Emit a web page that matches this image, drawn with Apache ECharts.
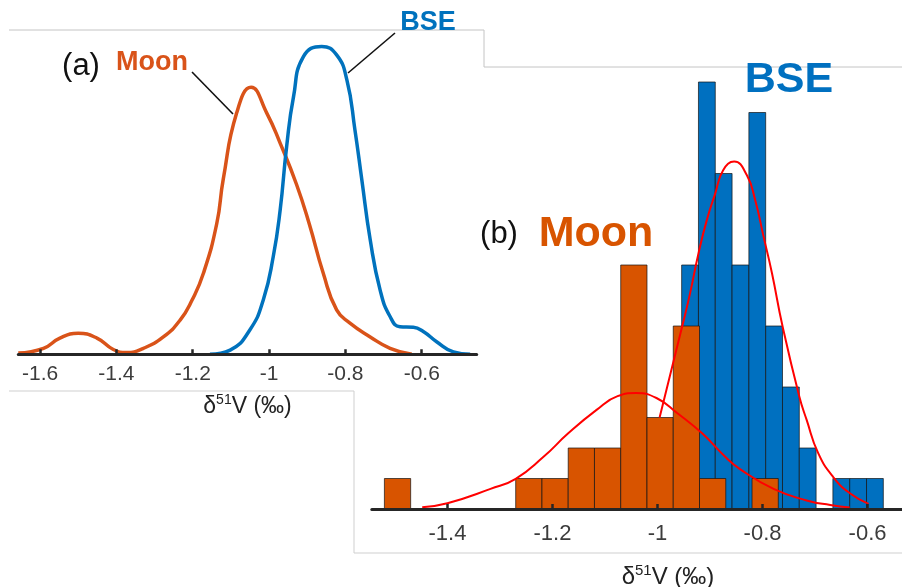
<!DOCTYPE html>
<html>
<head>
<meta charset="utf-8">
<script src="https://cdn.jsdelivr.net/npm/echarts@6/dist/echarts.min.js"></script>
<style>
html, body { margin: 0; padding: 0; background: #fff; }
#main { width: 902px; height: 587px; }
</style>
</head>
<body>
<div id="main"></div>
<script>
// (a) kernel density curves, delta51V vs density
var kdeMoonX = [-1.657, -1.591, -1.548, -1.500, -1.451, -1.408, -1.373, -1.329, -1.277, -1.233, -1.202, -1.172, -1.137, -1.120, -1.085, -1.047, -1.006, -0.971, -0.928, -0.895, -0.858, -0.823, -0.788, -0.735, -0.683, -0.626];
var kdeMoonY = [0.02, 0.10, 0.27, 0.35, 0.27, 0.08, 0.03, 0.10, 0.29, 0.57, 0.90, 1.35, 2.18, 2.92, 4.02, 4.45, 4.02, 3.52, 2.83, 2.18, 1.35, 0.74, 0.52, 0.29, 0.10, 0.0];
var kdeBseX = [-1.155, -1.102, -1.050, -1.015, -0.989, -0.971, -0.954, -0.936, -0.910, -0.862, -0.823, -0.796, -0.775, -0.757, -0.735, -0.709, -0.683, -0.657, -0.622, -0.596, -0.561, -0.517, -0.473];
var kdeBseY = [0.0, 0.07, 0.41, 0.91, 1.63, 2.40, 3.46, 4.29, 4.96, 5.13, 4.99, 4.57, 3.74, 2.91, 1.91, 1.07, 0.63, 0.46, 0.45, 0.38, 0.21, 0.04, 0.0];
var ticksA = [-1.6, -1.4, -1.2, -1, -0.8, -0.6];

// (b) histograms (bin lower edges, widths, counts) and normal fits
var moonBinLo = [-1.52, -1.27, -1.22, -1.17, -1.12, -1.07, -1.02, -0.97, -0.92, -0.82];
var moonBinWidth = 0.05;
var moonCounts = [1, 1, 1, 2, 2, 8, 3, 6, 1, 1];
var bseBinLo = [-0.954, -0.922, -0.890, -0.858, -0.826, -0.794, -0.762, -0.730, -0.666, -0.634, -0.602];
var bseBinWidth = 0.032;
var bseCounts = [8, 14, 11, 8, 13, 6, 4, 2, 1, 1, 1];
var fitMoonX = [-1.448, -1.400, -1.318, -1.270, -1.217, -1.170, -1.116, -1.076, -1.041, -1.002, -0.962, -0.915, -0.871, -0.843, -0.779, -0.716, -0.671, -0.634];
var fitMoonY = [0.06, 0.19, 0.66, 0.99, 1.71, 2.48, 3.25, 3.70, 3.80, 3.64, 3.14, 2.48, 1.71, 1.31, 0.66, 0.28, 0.13, 0.05];
var fitBseX = [-0.996, -0.952, -0.938, -0.922, -0.906, -0.890, -0.875, -0.854, -0.830, -0.814, -0.798, -0.782, -0.762, -0.730, -0.716, -0.694, -0.665, -0.633, -0.598];
var fitBseY = [3.00, 6.06, 7.07, 8.38, 9.48, 10.35, 11.11, 11.39, 10.95, 10.13, 8.93, 7.73, 6.00, 3.69, 2.92, 1.83, 1.04, 0.51, 0.17];
var ticksB = [-1.4, -1.2, -1, -0.8, -0.6];

var FONT = 'Liberation Sans';
var ORANGE = '#D95319';
var BLUE = '#0072BD';

function pairs(xs, ys) {
  return xs.map(function (x, i) { return [x, ys[i]]; });
}
function bins(lo, w, counts) {
  return lo.map(function (x, i) { return [x, +(x + w).toFixed(3), counts[i]]; });
}

function renderBin(params, api) {
  var p0 = api.coord([api.value(0), 0]);
  var p1 = api.coord([api.value(1), api.value(2)]);
  return {
    type: 'rect',
    shape: { x: p0[0], y: p1[1], width: p1[0] - p0[0], height: p0[1] - p1[1] },
    style: { fill: api.visual('color'), stroke: 'rgba(20,20,20,0.7)', lineWidth: 1 }
  };
}

function xAxisFor(idx, min, max, ticks, fontSize, margin, nameGap, nameSize) {
  return {
    gridIndex: idx,
    type: 'value',
    min: min,
    max: max,
    z: 10,
    splitLine: { show: false },
    axisLine: { onZero: false, lineStyle: { color: '#262626', width: 3 } },
    axisTick: { inside: true, length: 5, customValues: ticks, lineStyle: { color: '#262626', width: 2.5 } },
    axisLabel: { customValues: ticks, fontSize: fontSize, fontFamily: FONT, color: '#3c3c3c', margin: margin },
    name: '{n|δ}{s|51}{n|V (‰)}',
    nameLocation: 'middle',
    nameGap: nameGap,
    nameTextStyle: {
      rich: {
        n: { fontSize: nameSize, fontFamily: FONT, color: '#222', lineHeight: nameSize + 4 },
        s: { fontSize: Math.round(nameSize * 0.62), fontFamily: FONT, color: '#222', verticalAlign: 'top', lineHeight: nameSize * 0.7 }
      }
    }
  };
}

var chart = echarts.init(document.getElementById('main'));

var option = {
  backgroundColor: '#fff',
  animation: false,
  grid: [
    { left: 18.3, width: 458.4, top: 30.3, height: 324, containLabel: false, outerBoundsMode: 'none' },
    { left: 371.8, width: 592.4, top: 51.5, height: 457.5, containLabel: false, outerBoundsMode: 'none' }
  ],
  xAxis: [
    xAxisFor(0, -1.657, -0.456, ticksA, 21, 9, 39, 23),
    xAxisFor(1, -1.544, -0.416, ticksB, 22, 14, 54, 24)
  ],
  yAxis: [
    { gridIndex: 0, type: 'value', min: 0, max: 5.4, show: false },
    { gridIndex: 1, type: 'value', min: 0, max: 15, show: false }
  ],
  series: [
    {
      name: 'Moon KDE', type: 'line', xAxisIndex: 0, yAxisIndex: 0,
      data: pairs(kdeMoonX, kdeMoonY), showSymbol: false, smooth: 0.5,
      lineStyle: { color: ORANGE, width: 3.5 }, z: 3
    },
    {
      name: 'BSE KDE', type: 'line', xAxisIndex: 0, yAxisIndex: 0,
      data: pairs(kdeBseX, kdeBseY), showSymbol: false, smooth: 0.5,
      lineStyle: { color: BLUE, width: 3.5 }, z: 3
    },
    {
      name: 'BSE hist', type: 'custom', xAxisIndex: 1, yAxisIndex: 1,
      renderItem: renderBin, data: bins(bseBinLo, bseBinWidth, bseCounts),
      encode: { x: [0, 1], y: 2 }, itemStyle: { color: '#0070C0' }, z: 2
    },
    {
      name: 'Moon hist', type: 'custom', xAxisIndex: 1, yAxisIndex: 1,
      renderItem: renderBin, data: bins(moonBinLo, moonBinWidth, moonCounts),
      encode: { x: [0, 1], y: 2 }, itemStyle: { color: '#D85400' }, z: 3
    },
    {
      name: 'Moon fit', type: 'line', xAxisIndex: 1, yAxisIndex: 1,
      data: pairs(fitMoonX, fitMoonY), showSymbol: false, smooth: 0.5,
      lineStyle: { color: '#FF0000', width: 2 }, z: 5
    },
    {
      name: 'BSE fit', type: 'line', xAxisIndex: 1, yAxisIndex: 1,
      data: pairs(fitBseX, fitBseY), showSymbol: false, smooth: 0.5,
      lineStyle: { color: '#FF0000', width: 2 }, z: 5
    }
  ],
  graphic: [
    // panel frames
    { type: 'polyline', z: 0, shape: { points: [[9, 30], [484, 30], [484, 67], [902, 67]] }, style: { stroke: '#c4c4c4', lineWidth: 1, fill: null } },
    { type: 'polyline', z: 0, shape: { points: [[9, 391], [354, 391], [354, 553], [902, 553]] }, style: { stroke: '#cfcfcf', lineWidth: 1, fill: null } },
    // leader lines
    { type: 'line', shape: { x1: 192, y1: 72, x2: 233, y2: 114 }, style: { stroke: '#111', lineWidth: 1.6 } },
    { type: 'line', shape: { x1: 395, y1: 33, x2: 348, y2: 73 }, style: { stroke: '#111', lineWidth: 1.6 } },
    // labels
    { type: 'text', style: { x: 81, y: 66, text: '(a)', font: '31px "Liberation Sans"', fill: '#111', textAlign: 'center', textVerticalAlign: 'middle' } },
    { type: 'text', style: { x: 152, y: 63, text: 'Moon', font: 'bold 27px "Liberation Sans"', fill: ORANGE, textAlign: 'center', textVerticalAlign: 'middle' } },
    { type: 'text', style: { x: 428, y: 23, text: 'BSE', font: 'bold 27px "Liberation Sans"', fill: BLUE, textAlign: 'center', textVerticalAlign: 'middle' } },
    { type: 'text', style: { x: 499, y: 234, text: '(b)', font: '31px "Liberation Sans"', fill: '#111', textAlign: 'center', textVerticalAlign: 'middle' } },
    { type: 'text', style: { x: 596, y: 234, text: 'Moon', font: 'bold 43px "Liberation Sans"', fill: '#D85400', textAlign: 'center', textVerticalAlign: 'middle' } },
    { type: 'text', style: { x: 789, y: 80, text: 'BSE', font: 'bold 43px "Liberation Sans"', fill: '#0070C0', textAlign: 'center', textVerticalAlign: 'middle' } }
  ]
};

chart.setOption(option);
</script>
</body>
</html>
